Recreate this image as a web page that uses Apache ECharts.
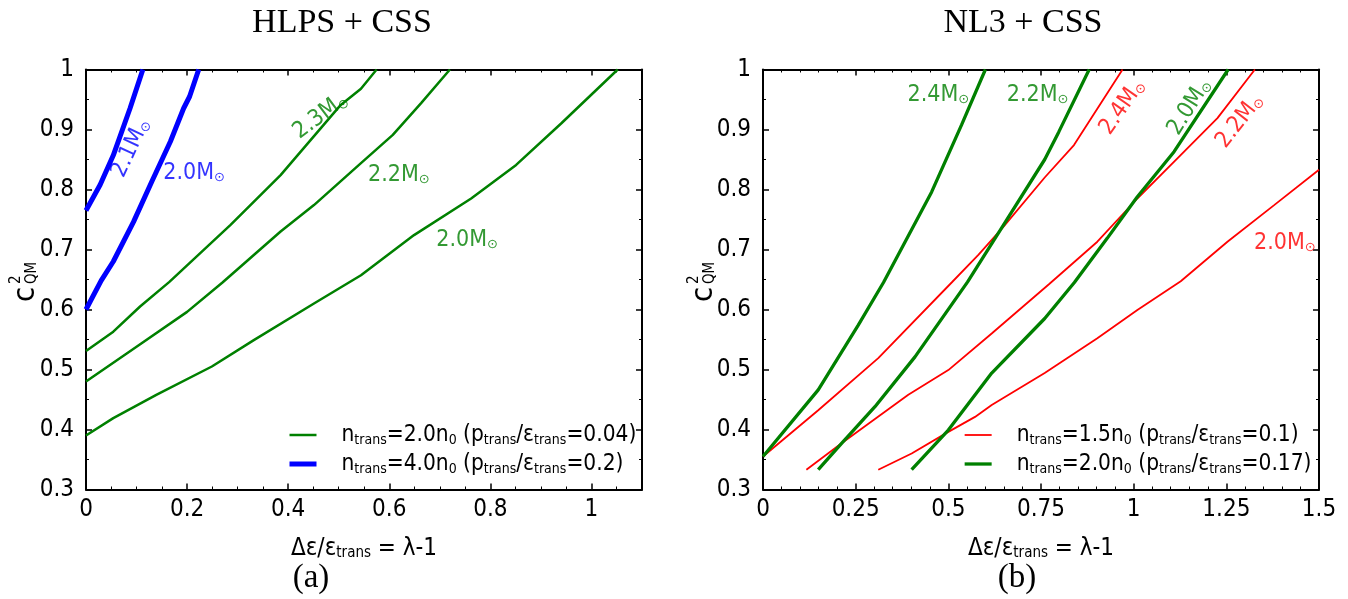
<!DOCTYPE html>
<html>
<head>
<meta charset="utf-8">
<script src="https://cdn.jsdelivr.net/npm/echarts@6/dist/echarts.min.js"></script>
<style>html,body{margin:0;padding:0;background:#fff}#c{width:1348px;height:599px}</style>
</head>
<body>
<div id="c"></div>
<script>
// ---------------- data ----------------
// Panel (a) HLPS + CSS : x = Δε/ε_trans, y = c²_QM
const hlpsG20 = [[0,0.39],[0.054,0.419],[0.14,0.458],[0.249,0.505],[0.332,0.549],[0.451,0.61],[0.544,0.657],[0.649,0.724],[0.762,0.785],[0.851,0.841],[0.94,0.91],[1.052,1.0]];
const hlpsG22 = [[0,0.48],[0.1,0.538],[0.2,0.596],[0.27,0.645],[0.385,0.73],[0.451,0.774],[0.544,0.844],[0.607,0.891],[0.663,0.944],[0.72,1.0]];
const hlpsG23 = [[0,0.531],[0.054,0.563],[0.107,0.605],[0.165,0.646],[0.286,0.741],[0.385,0.824],[0.504,0.941],[0.544,0.968],[0.575,1.0]];
const hlpsB20 = [[0,0.6],[0.03,0.648],[0.054,0.68],[0.094,0.746],[0.13,0.813],[0.167,0.88],[0.193,0.935],[0.205,0.955],[0.223,1.0]];
const hlpsB21 = [[0,0.765],[0.028,0.808],[0.054,0.857],[0.087,0.935],[0.1125,1.0]];
// Panel (b) NL3 + CSS
const nl3R20 = [[0.311,0.333],[0.401,0.36],[0.5,0.396],[0.572,0.421],[0.617,0.441],[0.76,0.494],[0.902,0.552],[1.01,0.599],[1.127,0.647],[1.253,0.713],[1.379,0.774],[1.5,0.833]];
const nl3R22 = [[0.117,0.333],[0.212,0.377],[0.392,0.458],[0.5,0.499],[0.617,0.56],[0.773,0.643],[0.902,0.713],[1.01,0.785],[1.118,0.852],[1.226,0.919],[1.327,1.0]];
const nl3R24 = [[0,0.355],[0.149,0.432],[0.311,0.519],[0.509,0.645],[0.581,0.691],[0.649,0.738],[0.76,0.82],[0.839,0.874],[0.97,1.0]];
const nl3G20 = [[0.401,0.333],[0.5,0.399],[0.617,0.494],[0.76,0.585],[0.84,0.645],[0.929,0.719],[1.01,0.788],[1.109,0.863],[1.255,1.0]];
const nl3G22 = [[0.149,0.333],[0.212,0.377],[0.302,0.438],[0.41,0.521],[0.552,0.646],[0.649,0.741],[0.76,0.85],[0.798,0.896],[0.88,1.0]];
const nl3G24 = [[0,0.355],[0.149,0.466],[0.257,0.574],[0.325,0.645],[0.455,0.796],[0.536,0.908],[0.6,1.0]];

// curve annotations (mass labels), anchored in data coordinates
const massA = [
  {t:'2.1', x:0.089, y:0.869, rot:65, c:'blue'},
  {t:'2.0', x:0.214, y:0.8275, rot:0, c:'blue'},
  {t:'2.3', x:0.464, y:0.9225, rot:37, c:'green'},
  {t:'2.2', x:0.619, y:0.824, rot:0, c:'green'},
  {t:'2.0', x:0.754, y:0.716, rot:0, c:'green'}
];
const massB = [
  {t:'2.4', x:0.473, y:0.9575, rot:0, c:'green'},
  {t:'2.2', x:0.741, y:0.9575, rot:0, c:'green'},
  {t:'2.4', x:0.970, y:0.9375, rot:55, c:'red'},
  {t:'2.0', x:1.151, y:0.9375, rot:58, c:'green'},
  {t:'2.2', x:1.286, y:0.914, rot:52, c:'red'},
  {t:'2.0', x:1.408, y:0.711, rot:0, c:'red'}
];
const titles = ['HLPS + CSS', 'NL3 + CSS'];
const captions = ['(a)', '(b)'];
const legendA = {g2: ['2.0', '0.04'], b4: ['4.0', '0.2']};
const legendB = {r15: ['1.5', '0.1'], g20: ['2.0', '0.17']};

// ---------------- styles ----------------
const GREEN = '#008000', BLUE = '#0000ff', RED = '#ff0000';
const SANS = "'DejaVu Sans Condensed','DejaVu Sans',sans-serif";
const SERIF = "'Liberation Serif',serif";
const colorOf = {green: GREEN, blue: BLUE, red: RED};
const FS = 24;
const W = {gA: 2.5, bA: 5, rB: 1.8, gB: 3.3};

const chart = echarts.init(document.getElementById('c'));

function xAxes(gi, max, interval, minorSplit, showMax) {
  const base = {
    gridIndex: gi, type: 'value', min: 0, max: max, interval: interval,
    splitLine: {show: false},
    axisLine: {show: true, onZero: false, lineStyle: {color: '#000', width: 2}},
    axisTick: {show: true, inside: true, length: 6, lineStyle: {color: '#000', width: 1.5}},
    minorTick: {show: true, splitNumber: minorSplit, length: 3, lineStyle: {color: '#000', width: 1}}
  };
  return [
    Object.assign({}, base, {
      position: 'bottom',
      axisLabel: {color: '#000', fontSize: FS, fontFamily: SANS, margin: 8, showMaxLabel: showMax,
        formatter: v => String(+v.toFixed(2))},
      name: 'Δε/ε{s|trans} = λ-1', nameLocation: 'middle', nameGap: 47,
      nameTextStyle: {color: '#000', fontSize: FS, fontFamily: SANS,
        rich: {s: {fontSize: 15, fontFamily: SANS, color: '#000', verticalAlign: 'bottom', padding: [9, 0, 0, 0]}}}
    }),
    Object.assign({}, base, {position: 'top', axisLabel: {show: false}})
  ];
}
function yAxes(gi) {
  const base = {
    gridIndex: gi, type: 'value', min: 0.3, max: 1, interval: 0.1,
    splitLine: {show: false},
    axisLine: {show: true, onZero: false, lineStyle: {color: '#000', width: 2}},
    axisTick: {show: true, inside: true, length: 6, lineStyle: {color: '#000', width: 1.5}},
    minorTick: {show: true, splitNumber: 2, length: 3, lineStyle: {color: '#000', width: 1}}
  };
  return [
    Object.assign({}, base, {position: 'left',
      axisLabel: {color: '#000', fontSize: FS, fontFamily: SANS, margin: 12, formatter: v => String(+v.toFixed(2))}}),
    Object.assign({}, base, {position: 'right', axisLabel: {show: false}})
  ];
}

function line(name, data, xi, yi, color, width) {
  return {type: 'line', name: name, data: data, xAxisIndex: xi, yAxisIndex: yi,
    symbol: 'none', showSymbol: false, smooth: false, clip: true,
    lineStyle: {color: color, width: width}, itemStyle: {color: color, opacity: 0}, z: 3};
}
function massSeries(list, xi, yi) {
  return {
    type: 'scatter', name: 'mass' + xi, xAxisIndex: xi, yAxisIndex: yi, symbolSize: 0, z: 5,
    data: list.map(d => ({value: [d.x, d.y],
      label: {show: true, position: 'inside', rotate: d.rot, color: colorOf[d.c],
        formatter: d.t + 'M{s|⊙}',
        fontSize: 23, fontFamily: SANS,
        rich: {s: {fontSize: 13, fontFamily: 'DejaVu Sans', color: colorOf[d.c], verticalAlign: 'bottom', padding: [10, 0, 0, 0]}}}})),
    silent: true
  };
}
const legRich = {
  gap: {width: 20},
  s: {fontSize: 14, fontFamily: SANS, color: '#000', verticalAlign: 'bottom', padding: [9, 0, 0, 0]}
};
function legFmt(map) {
  return name => {
    const v = map[name];
    return '{gap| }n{s|trans}=' + v[0] + 'n{s|0} (p{s|trans}/ε{s|trans}=' + v[1] + ')';
  };
}

const mkText = (text, x, y, size, family) => ({type: 'text', x: x, y: y,
  style: {text: text, fill: '#000', font: size + 'px ' + family, textAlign: 'center', textVerticalAlign: 'middle'}});
function yName(x0, y0) {
  return {type: 'group', x: x0, y: y0, rotation: Math.PI / 2, children: [
    {type: 'text', x: 0, y: 2, style: {text: 'c', fill: '#000', font: '31px ' + SANS, textVerticalAlign: 'bottom'}},
    {type: 'text', x: 18, y: -15, style: {text: '2', fill: '#000', font: '15px ' + SANS, textVerticalAlign: 'bottom'}},
    {type: 'text', x: 18, y: 1, style: {text: 'QM', fill: '#000', font: '15px ' + SANS, textVerticalAlign: 'bottom'}}
  ]};
}
const legendCommon = {orient: 'vertical', itemWidth: 27, itemHeight: 14, itemGap: 5, padding: 0,
  itemStyle: {opacity: 0},
  textStyle: {color: '#000', fontSize: 22.5, fontFamily: SANS, lineHeight: 24, rich: legRich}};

const option = {
  animation: false,
  backgroundColor: '#fff',
  grid: [
    {left: 86, top: 69.5, width: 556, height: 420},
    {left: 763, top: 69.5, width: 556, height: 420}
  ],
  xAxis: [].concat(xAxes(0, 1.1, 0.2, 4, false), xAxes(1, 1.5, 0.25, 5, true)),
  yAxis: [].concat(yAxes(0), yAxes(1)),
  legend: [
    Object.assign({}, legendCommon, {left: 287, top: 423, formatter: legFmt(legendA),
      data: [{name: 'g2', lineStyle: {width: W.gA}}, {name: 'b4', lineStyle: {width: W.bA}}]}),
    Object.assign({}, legendCommon, {left: 963, top: 423, formatter: legFmt(legendB),
      data: [{name: 'r15', lineStyle: {width: W.rB}}, {name: 'g20', lineStyle: {width: W.gB}}]})
  ],
  series: [
    line('g2', hlpsG20, 0, 0, GREEN, W.gA),
    line('g2', hlpsG22, 0, 0, GREEN, W.gA),
    line('g2', hlpsG23, 0, 0, GREEN, W.gA),
    line('b4', hlpsB20, 0, 0, BLUE, W.bA),
    line('b4', hlpsB21, 0, 0, BLUE, W.bA),
    line('r15', nl3R20, 2, 2, RED, W.rB),
    line('r15', nl3R22, 2, 2, RED, W.rB),
    line('r15', nl3R24, 2, 2, RED, W.rB),
    line('g20', nl3G20, 2, 2, GREEN, W.gB),
    line('g20', nl3G22, 2, 2, GREEN, W.gB),
    line('g20', nl3G24, 2, 2, GREEN, W.gB),
    massSeries(massA, 0, 0),
    massSeries(massB, 2, 2)
  ],
  graphic: [
    mkText(titles[0], 342, 23, 34, SERIF),
    mkText(titles[1], 1023, 23, 34, SERIF),
    mkText(captions[0], 311, 578, 33, SERIF),
    mkText(captions[1], 1017, 578, 33, SERIF),
    yName(39, 302),
    yName(717, 302)
  ]
};
chart.setOption(option);
</script>
</body>
</html>
